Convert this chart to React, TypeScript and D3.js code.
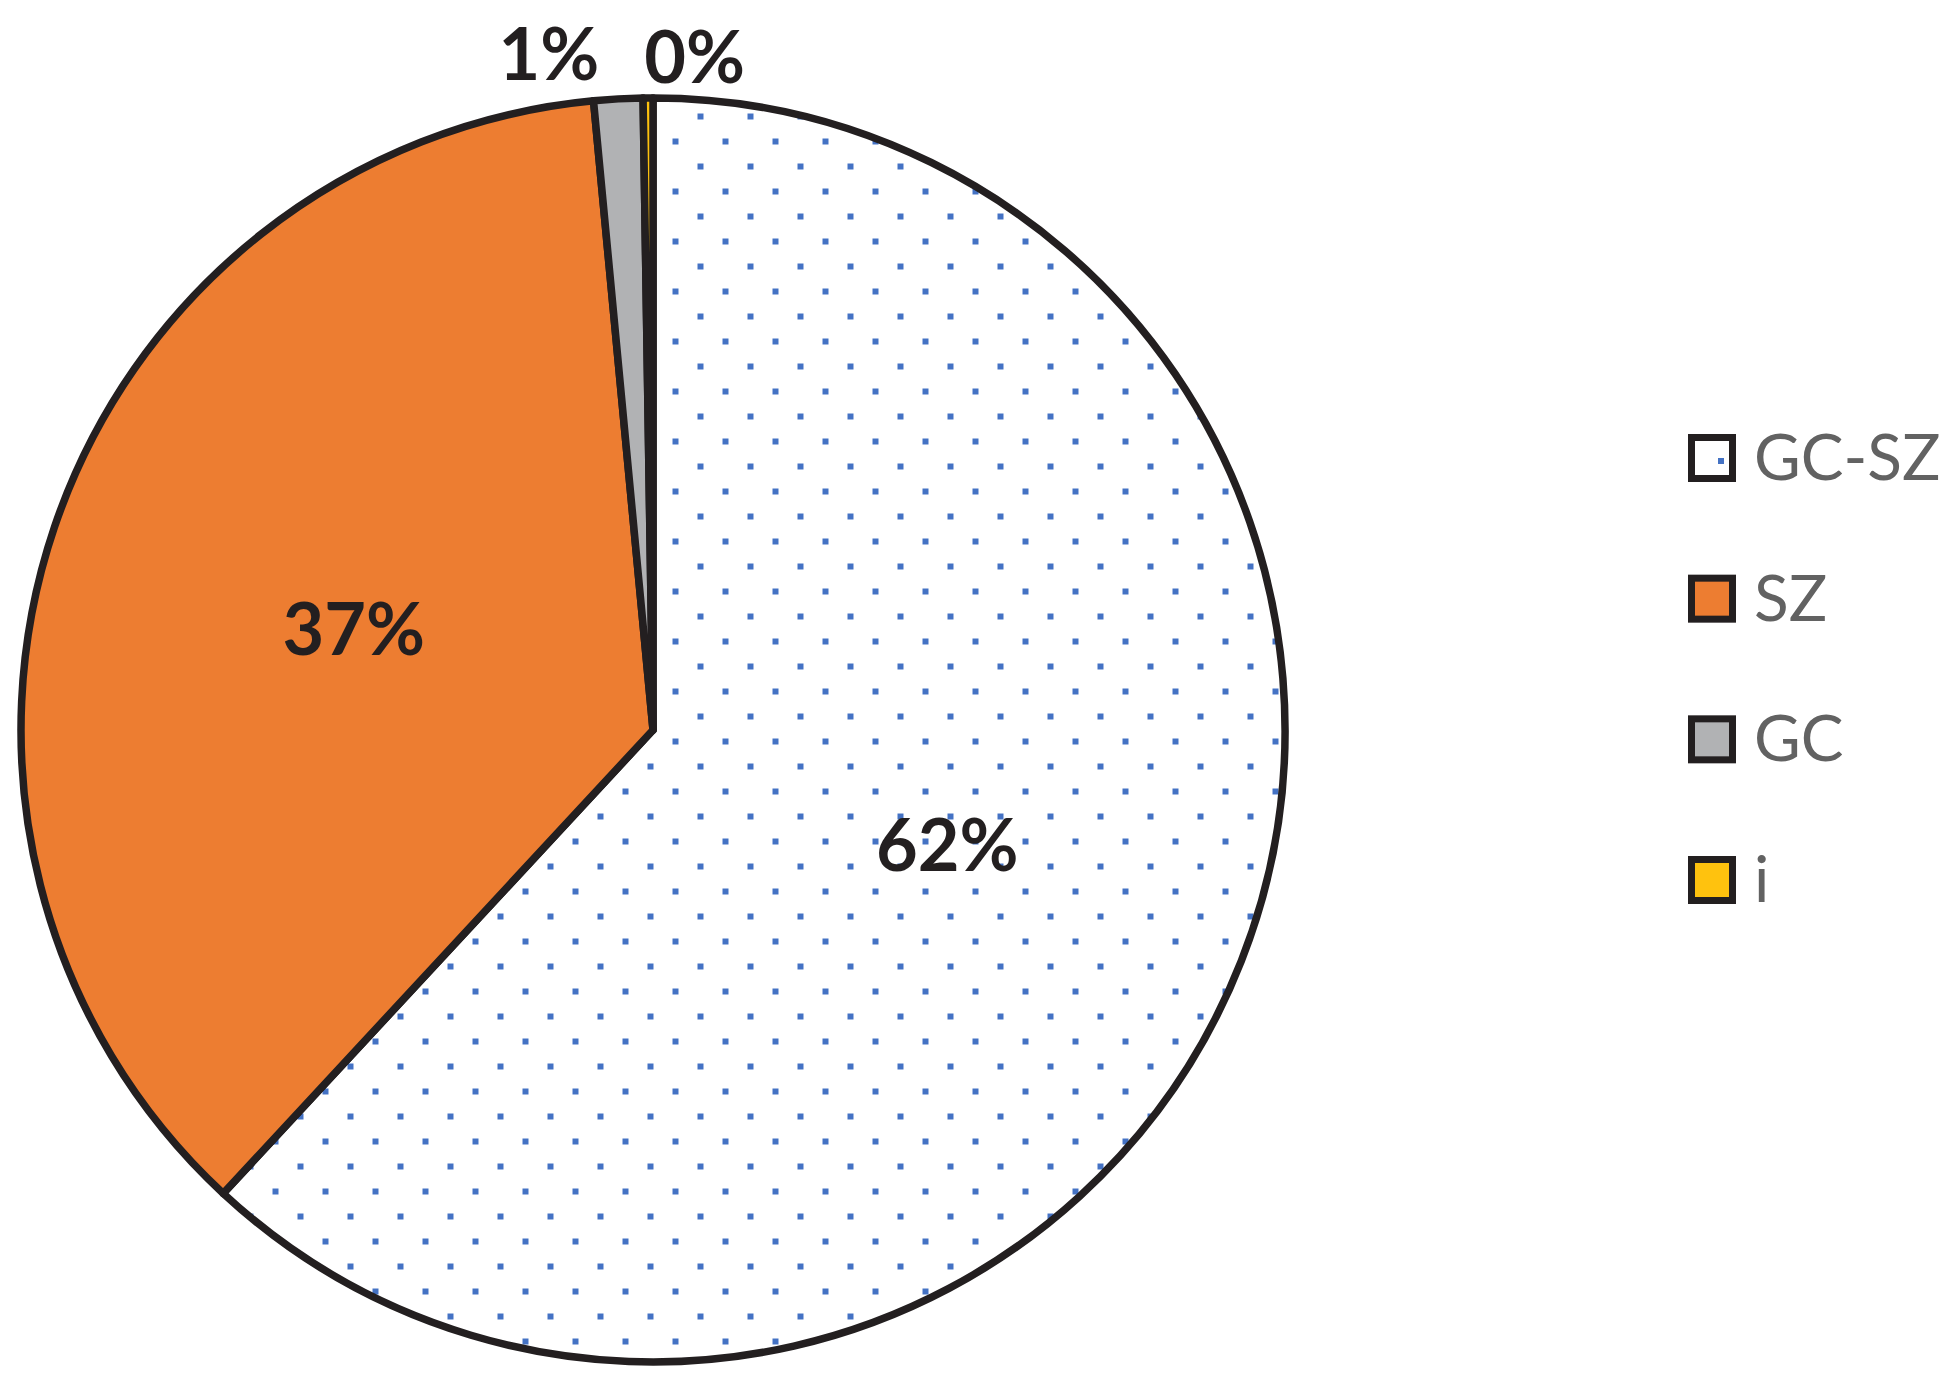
import React from "react";
import * as d3 from "d3";

const categories = ["GC-SZ", "SZ", "GC", "i"];
const values = [61.9, 36.6, 1.25, 0.25];
const labels = ["62%", "37%", "1%", "0%"];
const colors = ["url(#dots)", "#ED7D31", "#B1B2B4", "#FFC20E"];
const legendColors = ["#FFFFFF", "#ED7D31", "#B1B2B4", "#FFC20E"];

const W = 1955;
const H = 1384;
const CX = 653;
const CY = 730;
const R = 632;

// outside label placement for the tiny slices: [radius, angle nudge in degrees]
const outsidePlacement: Record<number, [number, number]> = {
  2: [684, -5.6],
  3: [674, 4.0],
};

export default function App() {
  const data = categories.map((c, i) => ({ cat: c, value: values[i], label: labels[i], i }));
  const pie = d3.pie<any>().sort(null).value((d: any) => d.value);
  const arcs = pie(data);
  const arc = d3.arc<any>().innerRadius(0).outerRadius(R);

  const legendY = d3.scalePoint<string>().domain(categories).range([458, 880]);

  return (
    <svg
      width={W}
      height={H}
      style={{ position: "absolute", left: 0, top: 0, background: "#fff" }}
    >
      <defs>
        <pattern id="dots" patternUnits="userSpaceOnUse" x={669.5} y={108.5} width={50} height={50}>
          <rect x={0} y={0} width={50} height={50} fill="#fff" />
          <rect x={0} y={0} width={6} height={6} fill="#4472C4" />
          <rect x={25} y={25} width={6} height={6} fill="#4472C4" />
        </pattern>
        <pattern id="dotsLegend" patternUnits="userSpaceOnUse" x={1718} y={458} width={50} height={50}>
          <rect x={0} y={0} width={50} height={50} fill="#fff" />
          <rect x={0} y={0} width={6} height={6} fill="#4472C4" />
        </pattern>
      </defs>
      <g transform={`translate(${CX},${CY})`}>
        {arcs.map((a, i) => (
          <path
            key={i}
            d={arc(a) as string}
            fill={colors[i]}
            stroke="#231F20"
            strokeWidth={7.5}
            strokeLinejoin="round"
          />
        ))}
        {arcs.map((a, i) => {
          let x: number, y: number;
          if (outsidePlacement[i]) {
            const [r, nudge] = outsidePlacement[i];
            const mid = (a.startAngle + a.endAngle) / 2 + (nudge * Math.PI) / 180;
            x = r * Math.sin(mid);
            y = -r * Math.cos(mid);
          } else {
            [x, y] = arc.centroid(a);
          }
          return (
            <text
              key={"l" + i}
              x={x}
              y={y + 26}
              textAnchor="middle"
              fontFamily="Lato, sans-serif"
              fontWeight={700}
              fontSize={72}
              fill="#231F20"
            >
              {a.data.label}
            </text>
          );
        })}
      </g>
      <g>
        {categories.map((c, i) => {
          const y = legendY(c) as number;
          return (
            <g key={c}>
              <rect
                x={1691.5}
                y={y - 20.5}
                width={41}
                height={41}
                fill={i === 0 ? "url(#dotsLegend)" : legendColors[i]}
                stroke="#231F20"
                strokeWidth={7}
              />
              <text
                x={1754}
                y={y + 22}
                fontFamily="Lato, sans-serif"
                fontSize={64}
                fill="#626262"
              >
                {c}
              </text>
            </g>
          );
        })}
      </g>
    </svg>
  );
}
